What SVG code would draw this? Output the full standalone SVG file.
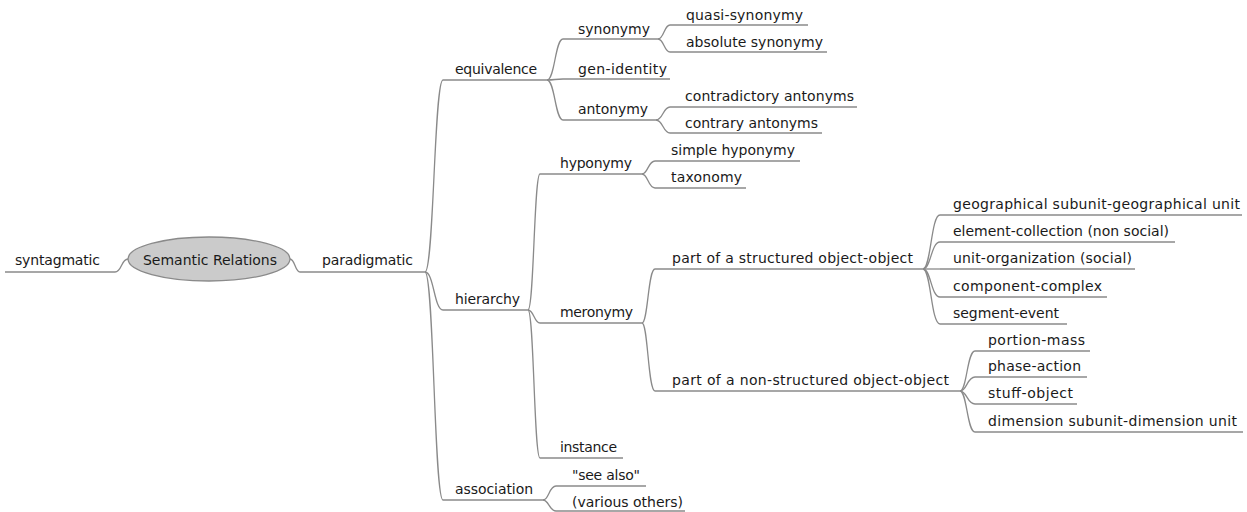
<svg xmlns="http://www.w3.org/2000/svg" width="1247" height="512" viewBox="0 0 1247 512">
<style>
  text { font-family: "DejaVu Sans", "Liberation Sans", sans-serif; font-size: 14px; fill: #1a1a1a; }
  .ul { stroke: #8a8a8a; stroke-width: 1.3; fill: none; }
  .c { stroke: #8a8a8a; stroke-width: 1.3; fill: none; }
</style>
<rect width="1247" height="512" fill="#ffffff"/>
<g id="connectors">
  <path class="c" d="M128,259 C121,259 122,272 115,272"/>
  <path class="c" d="M290,259 C295,259 295,272 300,272"/>
  <path class="c" d="M425,272 C434,272 434,80 443,80"/>
  <path class="c" d="M425,272 C434,272 434,310 443,310"/>
  <path class="c" d="M425,272 C434,272 434,500 443,500"/>
  <path class="c" d="M547,80 C555,80 555,39 563,39"/>
  <path class="c" d="M547,80 C555,80 555,79 563,79"/>
  <path class="c" d="M547,80 C555,80 555,120 563,120"/>
  <path class="c" d="M658,39 C664,39 664,25 670,25"/>
  <path class="c" d="M658,39 C664,39 664,52 670,52"/>
  <path class="c" d="M656,120 C663,120 663,107 670,107"/>
  <path class="c" d="M656,120 C663,120 663,133 670,133"/>
  <path class="c" d="M528,310 C534,310 534,174 540,174"/>
  <path class="c" d="M528,310 C534,310 534,323 540,323"/>
  <path class="c" d="M528,310 C534,310 534,458 540,458"/>
  <path class="c" d="M642,174 C648,174 648,161 655,161"/>
  <path class="c" d="M642,174 C648,174 648,188 655,188"/>
  <path class="c" d="M642,323 C648,323 648,269 655,269"/>
  <path class="c" d="M642,323 C648,323 648,391 655,391"/>
  <path class="c" d="M923,269 C931,269 931,215 940,215"/>
  <path class="c" d="M923,269 C931,269 931,242 940,242"/>
  <path class="c" d="M923,269 C931,269 931,269 940,269"/>
  <path class="c" d="M923,269 C931,269 931,297 940,297"/>
  <path class="c" d="M923,269 C931,269 931,324 940,324"/>
  <path class="c" d="M960,391 C967,391 967,351 975,351"/>
  <path class="c" d="M960,391 C967,391 967,377 975,377"/>
  <path class="c" d="M960,391 C967,391 967,404 975,404"/>
  <path class="c" d="M960,391 C967,391 967,432 975,432"/>
  <path class="c" d="M543,500 C549,500 549,486 556,486"/>
  <path class="c" d="M543,500 C549,500 549,511 556,511"/>
</g>
<g id="root">
  <ellipse cx="209" cy="259" rx="81" ry="22" fill="#cbcbcb" stroke="#8a8a8a" stroke-width="1.3"/>
  <text x="143" y="265" textLength="134" lengthAdjust="spacing">Semantic Relations</text>
</g>
<g id="syntagmatic"><text x="15" y="265" textLength="85" lengthAdjust="spacing">syntagmatic</text><line class="ul" x1="5" y1="272" x2="115" y2="272"/></g>
<g id="paradigmatic"><text x="322" y="265" textLength="91" lengthAdjust="spacing">paradigmatic</text><line class="ul" x1="300" y1="272" x2="425" y2="272"/></g>
<g id="equivalence"><text x="455" y="74" textLength="82" lengthAdjust="spacing">equivalence</text><line class="ul" x1="443" y1="80" x2="547" y2="80"/></g>
<g id="synonymy"><text x="578" y="34" textLength="72" lengthAdjust="spacing">synonymy</text><line class="ul" x1="563" y1="39" x2="658" y2="39"/></g>
<g id="quasi-synonymy"><text x="686" y="20" textLength="117" lengthAdjust="spacing">quasi-synonymy</text><line class="ul" x1="670" y1="25" x2="808" y2="25"/></g>
<g id="absolute-synonymy"><text x="686" y="47" textLength="137" lengthAdjust="spacing">absolute synonymy</text><line class="ul" x1="670" y1="52" x2="827" y2="52"/></g>
<g id="gen-identity"><text x="578" y="74" textLength="89" lengthAdjust="spacing">gen-identity</text><line class="ul" x1="563" y1="79" x2="670" y2="79"/></g>
<g id="antonymy"><text x="578" y="114" textLength="70" lengthAdjust="spacing">antonymy</text><line class="ul" x1="563" y1="120" x2="656" y2="120"/></g>
<g id="contradictory-antonyms"><text x="685" y="101" textLength="169" lengthAdjust="spacing">contradictory antonyms</text><line class="ul" x1="670" y1="107" x2="857" y2="107"/></g>
<g id="contrary-antonyms"><text x="685" y="128" textLength="133" lengthAdjust="spacing">contrary antonyms</text><line class="ul" x1="670" y1="133" x2="822" y2="133"/></g>
<g id="hierarchy"><text x="455" y="304" textLength="65" lengthAdjust="spacing">hierarchy</text><line class="ul" x1="443" y1="310" x2="528" y2="310"/></g>
<g id="hyponymy"><text x="560" y="168" textLength="72" lengthAdjust="spacing">hyponymy</text><line class="ul" x1="540" y1="174" x2="642" y2="174"/></g>
<g id="simple-hyponymy"><text x="671" y="155" textLength="124" lengthAdjust="spacing">simple hyponymy</text><line class="ul" x1="655" y1="161" x2="800" y2="161"/></g>
<g id="taxonomy"><text x="671" y="182" textLength="71" lengthAdjust="spacing">taxonomy</text><line class="ul" x1="655" y1="188" x2="746" y2="188"/></g>
<g id="meronymy"><text x="560" y="317" textLength="73" lengthAdjust="spacing">meronymy</text><line class="ul" x1="540" y1="323" x2="642" y2="323"/></g>
<g id="structured"><text x="672" y="263" textLength="241" lengthAdjust="spacing">part of a structured object-object</text><line class="ul" x1="655" y1="269" x2="923" y2="269"/></g>
<g id="geo"><text x="953" y="209" textLength="287" lengthAdjust="spacing">geographical subunit-geographical unit</text><line class="ul" x1="940" y1="215" x2="1242" y2="215"/></g>
<g id="element"><text x="953" y="236" textLength="216" lengthAdjust="spacing">element-collection (non social)</text><line class="ul" x1="940" y1="242" x2="1175" y2="242"/></g>
<g id="unit"><text x="953" y="263" textLength="179" lengthAdjust="spacing">unit-organization (social)</text><line class="ul" x1="940" y1="269" x2="1135" y2="269"/></g>
<g id="component"><text x="953" y="291" textLength="149" lengthAdjust="spacing">component-complex</text><line class="ul" x1="940" y1="297" x2="1107" y2="297"/></g>
<g id="segment"><text x="953" y="318" textLength="106" lengthAdjust="spacing">segment-event</text><line class="ul" x1="940" y1="324" x2="1067" y2="324"/></g>
<g id="non-structured"><text x="672" y="385" textLength="277" lengthAdjust="spacing">part of a non-structured object-object</text><line class="ul" x1="655" y1="391" x2="960" y2="391"/></g>
<g id="portion"><text x="988" y="345" textLength="97" lengthAdjust="spacing">portion-mass</text><line class="ul" x1="975" y1="351" x2="1090" y2="351"/></g>
<g id="phase"><text x="988" y="371" textLength="93" lengthAdjust="spacing">phase-action</text><line class="ul" x1="975" y1="377" x2="1087" y2="377"/></g>
<g id="stuff"><text x="988" y="398" textLength="85" lengthAdjust="spacing">stuff-object</text><line class="ul" x1="975" y1="404" x2="1077" y2="404"/></g>
<g id="dimension"><text x="988" y="426" textLength="249" lengthAdjust="spacing">dimension subunit-dimension unit</text><line class="ul" x1="975" y1="432" x2="1243" y2="432"/></g>
<g id="instance"><text x="560" y="452" textLength="57" lengthAdjust="spacing">instance</text><line class="ul" x1="540" y1="458" x2="623" y2="458"/></g>
<g id="association"><text x="455" y="494" textLength="78" lengthAdjust="spacing">association</text><line class="ul" x1="443" y1="500" x2="543" y2="500"/></g>
<g id="see-also"><text x="572" y="480" textLength="68" lengthAdjust="spacing">"see also"</text><line class="ul" x1="556" y1="486" x2="646" y2="486"/></g>
<g id="various"><text x="572" y="507" textLength="111" lengthAdjust="spacing">(various others)</text><line class="ul" x1="556" y1="511" x2="685" y2="511"/></g>
</svg>
